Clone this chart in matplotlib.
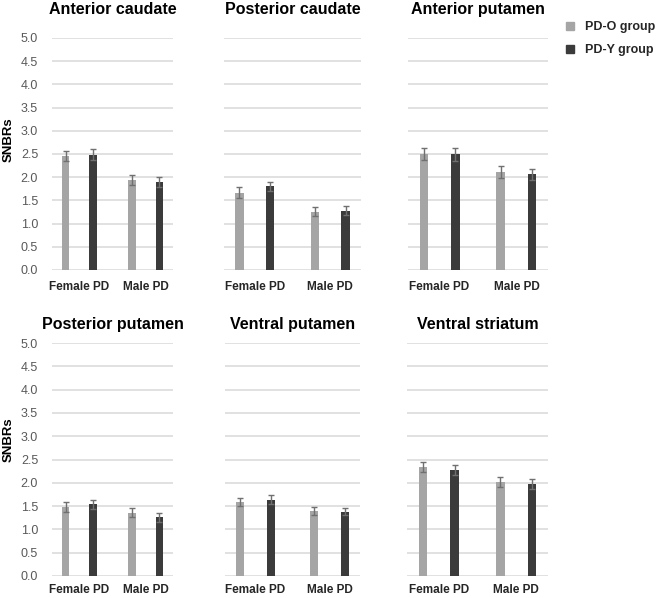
import numpy as np
import matplotlib.pyplot as plt
from matplotlib.patches import Patch

plt.rcParams["font.family"] = ["Liberation Sans", "DejaVu Sans"]

regions = ["Anterior caudate", "Posterior caudate", "Anterior putamen",
           "Posterior putamen", "Ventral putamen", "Ventral striatum"]
categories = ["Female PD", "Male PD"]
groups = ["PD-O group", "PD-Y group"]

# SNBR means per region: [Female PD, Male PD]
pd_o_mean = [[2.46, 1.94], [1.67, 1.26], [2.50, 2.11],
             [1.48, 1.36], [1.59, 1.40], [2.34, 2.02]]
pd_y_mean = [[2.48, 1.89], [1.80, 1.28], [2.49, 2.06],
             [1.54, 1.26], [1.64, 1.38], [2.27, 1.97]]
pd_o_err = [[0.11, 0.11], [0.12, 0.10], [0.14, 0.13],
            [0.10, 0.09], [0.09, 0.09], [0.11, 0.11]]
pd_y_err = [[0.12, 0.11], [0.10, 0.10], [0.14, 0.12],
            [0.10, 0.10], [0.09, 0.07], [0.11, 0.11]]

light = "#a5a5a5"
dark = "#3b3b3b"

W, H = 658, 598
fig = plt.figure(figsize=(W / 100, H / 100), dpi=100)

# axes boxes in pixels: (left, right, top, bottom)
boxes = [(52, 173, 38, 270), (224, 361, 38, 270), (408, 548, 38, 270),
         (52, 173, 343, 576), (225, 360, 343, 576), (407, 548, 343, 576)]

x = np.arange(len(categories))
off = 0.205
bw = 0.11

for i, (l, r, t, b) in enumerate(boxes):
    ax = fig.add_axes([l / W, 1 - b / H, (r - l) / W, (b - t) / H])
    ax.bar(x - off, pd_o_mean[i], bw, color=light, zorder=3)
    ax.bar(x + off, pd_y_mean[i], bw, color=dark, zorder=3)
    ax.errorbar(x - off, pd_o_mean[i], yerr=pd_o_err[i], fmt="none",
                ecolor="#707070", elinewidth=1, capsize=2.5, capthick=1, zorder=4)
    ax.errorbar(x + off, pd_y_mean[i], yerr=pd_y_err[i], fmt="none",
                ecolor="#707070", elinewidth=1, capsize=2.5, capthick=1, zorder=4)
    ax.set_xlim(-0.41, 1.41)
    ax.set_ylim(0, 5.0)
    ax.set_yticks(np.arange(0, 5.01, 0.5))
    ax.yaxis.grid(True, color="#d9d9d9", linewidth=1.1, zorder=0)
    for s in ax.spines.values():
        s.set_visible(False)
    ax.tick_params(length=0)
    ax.set_xticks(x)
    ax.set_xticklabels(categories, fontsize=8.5, fontweight="bold", color="#262626")
    ax.tick_params(axis="x", pad=8 if i < 3 else 5.5)
    if i % 3 == 0:
        ax.set_yticklabels([f"{v:.1f}" for v in np.arange(0, 5.01, 0.5)],
                           fontsize=9, color="#595959")
        ax.tick_params(axis="y", pad=10)
    else:
        ax.set_yticklabels([])
    ax.set_title(regions[i], fontsize=11.5, fontweight="bold", color="black",
                 pad=17 if i < 3 else 10)

fig.text(9 / W, 1 - 140 / H, "SNBRs", rotation=90, fontsize=9.5,
         fontweight="bold", ha="center", va="center")
fig.text(9 / W, 1 - 440 / H, "SNBRs", rotation=90, fontsize=9.5,
         fontweight="bold", ha="center", va="center")

handles = [Patch(color=light), Patch(color=dark)]
fig.legend(handles, groups, loc="upper left", bbox_to_anchor=(566 / W, 1 - 21 / H),
           frameon=False, handlelength=0.6, handleheight=0.6,
           handletextpad=0.9, labelspacing=0.9, borderpad=0, borderaxespad=0,
           prop={"weight": "bold", "size": 9})
for t in fig.legends[0].get_texts():
    t.set_color("#262626")

fig.savefig("out.png", dpi=100)
